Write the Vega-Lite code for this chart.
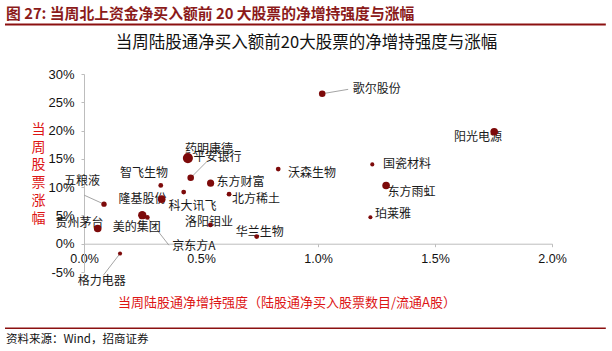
{
  "$schema": "https://vega.github.io/schema/vega-lite/v6.json",
  "width": 468,
  "height": 198,
  "autosize": {"type": "none"},
  "padding": {"left": 84, "top": 74, "right": 60, "bottom": 79},
  "background": "white",
  "config": {
    "view": {"stroke": null},
    "axis": {"grid": false, "labelOverlap": false, "labelBound": false, "labelFlush": false},
    "text": {"font": "Noto Sans CJK SC"}
  },
  "datasets": {
    "stocks": [
      {"name": "贵州茅台", "x": 0.000585, "y": 0.0269, "amt": 18.5, "lx": -0.000192, "ly": 0.0363, "ex": null, "ey": null},
      {"name": "五粮液", "x": 0.000855, "y": 0.0699, "amt": 9, "lx": -0.000085, "ly": 0.1106, "ex": 0.00001, "ey": 0.0858},
      {"name": "格力电器", "x": 0.00154, "y": -0.0173, "amt": 5.3, "lx": 0.000756, "ly": -0.0664, "ex": 0.000825, "ey": -0.0558},
      {"name": "美的集团", "x": 0.00249, "y": 0.0504, "amt": 22, "lx": 0.00225, "ly": 0.0292, "ex": null, "ey": null},
      {"name": "京东方A", "x": 0.002705, "y": 0.0464, "amt": 7.3, "lx": 0.0047, "ly": -0.0032, "ex": 0.00363, "ey": -0.0027},
      {"name": "隆基股份", "x": 0.00332, "y": 0.0788, "amt": 18.5, "lx": 0.0025, "ly": 0.0782, "ex": null, "ey": null},
      {"name": "智飞生物", "x": 0.00328, "y": 0.103, "amt": 7.3, "lx": 0.00256, "ly": 0.1253, "ex": null, "ey": null},
      {"name": "科大讯飞", "x": 0.00426, "y": 0.0912, "amt": 7.3, "lx": 0.004637, "ly": 0.0669, "ex": null, "ey": null},
      {"name": "药明康德", "x": 0.00444, "y": 0.1513, "amt": 32.5, "lx": 0.00534, "ly": 0.1667, "ex": null, "ey": null},
      {"name": "平安银行", "x": 0.00456, "y": 0.1165, "amt": 13.7, "lx": 0.005705, "ly": 0.1536, "ex": 0.00524, "ey": 0.1448},
      {"name": "东方财富", "x": 0.00541, "y": 0.1071, "amt": 16, "lx": 0.00669, "ly": 0.1094, "ex": null, "ey": null},
      {"name": "洛阳钼业", "x": 0.0054, "y": 0.0333, "amt": 7.3, "lx": 0.00534, "ly": 0.0386, "ex": null, "ey": null},
      {"name": "北方稀土", "x": 0.0062, "y": 0.0876, "amt": 7.3, "lx": 0.00735, "ly": 0.0793, "ex": null, "ey": null},
      {"name": "华兰生物", "x": 0.00738, "y": 0.0127, "amt": 7.3, "lx": 0.00751, "ly": 0.0209, "ex": null, "ey": null},
      {"name": "沃森生物", "x": 0.0083, "y": 0.1319, "amt": 7.3, "lx": 0.00974, "ly": 0.1242, "ex": null, "ey": null},
      {"name": "歌尔股份", "x": 0.01018, "y": 0.2651, "amt": 13.7, "lx": 0.01251, "ly": 0.2729, "ex": 0.01129, "ey": 0.2729},
      {"name": "阳光电源", "x": 0.01753, "y": 0.1979, "amt": 18.5, "lx": 0.01684, "ly": 0.188, "ex": null, "ey": null},
      {"name": "国瓷材料", "x": 0.01232, "y": 0.1402, "amt": 5.3, "lx": 0.0138, "ly": 0.1402, "ex": null, "ey": null},
      {"name": "东方雨虹", "x": 0.01291, "y": 0.103, "amt": 18.5, "lx": 0.014, "ly": 0.0917, "ex": null, "ey": null},
      {"name": "珀莱雅", "x": 0.01224, "y": 0.0469, "amt": 5.3, "lx": 0.01321, "ly": 0.0522, "ex": null, "ey": null}
    ]
  },
  "layer": [
    {
      "data": {"name": "stocks"},
      "transform": [{"filter": "datum.ex != null"}],
      "mark": {"type": "rule", "color": "#9a9a9a", "strokeWidth": 0.9},
      "encoding": {
        "x": {
          "field": "x", "type": "quantitative",
          "scale": {"domain": [0, 0.02], "nice": false, "zero": false},
          "axis": {
            "orient": "bottom",
            "offset": -28.3,
            "values": [0, 0.005, 0.01, 0.015, 0.02],
            "tickCount": 20,
            "format": ".1%",
            "labelOverlap": false,
            "domainColor": "#bdbdbd",
            "tickColor": "#bdbdbd",
            "tickSize": 3,
            "labelFont": "Liberation Sans",
            "labelFontSize": 12.5,
            "labelColor": "#111",
            "labelPadding": 6,
            "title": "当周陆股通净增持强度（陆股通净买入股票数目/流通A股）",
            "titleFont": "Noto Sans CJK SC",
            "titleFontSize": 13,
            "titleFontWeight": "normal",
            "titleColor": "#dd1515",
            "titleX": 202.5,
            "titleY": 58.3,
            "titleAlign": "center",
            "titleBaseline": "middle"
          }
        },
        "y": {
          "field": "y", "type": "quantitative",
          "scale": {"domain": [-0.05, 0.3], "nice": false, "zero": false},
          "axis": {
            "orient": "left",
            "values": [-0.05, 0, 0.05, 0.1, 0.15, 0.2, 0.25, 0.3],
            "tickCount": 20,
            "format": ".0%",
            "labelExpr": "replace(datum.label, '−', '-')",
            "labelOverlap": false,
            "domainColor": "#bdbdbd",
            "tickColor": "#bdbdbd",
            "tickSize": 3,
            "labelFont": "Liberation Sans",
            "labelFontSize": 13,
            "labelColor": "#111",
            "labelPadding": 7,
            "title": ["当", "周", "股", "票", "涨", "幅"],
            "titleAngle": 0,
            "titleFont": "Noto Sans CJK SC",
            "titleFontSize": 14,
            "titleFontWeight": "normal",
            "titleColor": "#dd1515",
            "titleLineHeight": 17.8,
            "titleX": -46,
            "titleY": 55.3,
            "titleAlign": "center",
            "titleBaseline": "middle"
          }
        },
        "x2": {"field": "ex"},
        "y2": {"field": "ey"}
      }
    },
    {
      "data": {"name": "stocks"},
      "mark": {"type": "text", "fontSize": 12, "color": "#1a1a1a", "align": "center", "baseline": "middle"},
      "encoding": {
        "x": {"field": "lx", "type": "quantitative"},
        "y": {"field": "ly", "type": "quantitative"},
        "text": {"field": "name"}
      }
    },
    {
      "data": {"name": "stocks"},
      "mark": {"type": "circle", "opacity": 1, "color": "#7d0a0a"},
      "encoding": {
        "x": {"field": "x", "type": "quantitative"},
        "y": {"field": "y", "type": "quantitative"},
        "size": {
          "field": "amt", "type": "quantitative",
          "scale": {"type": "linear", "domain": [0, 33], "range": [0, 104]},
          "legend": null
        }
      }
    },
    {
      "data": {"values": [{"t": "当周陆股通净买入额前20大股票的净增持强度与涨幅"}]},
      "mark": {"type": "text", "fontSize": 16.5, "color": "#111", "align": "center", "baseline": "middle"},
      "encoding": {
        "x": {"datum": 0.009509, "type": "quantitative"},
        "y": {"datum": 0.3548, "type": "quantitative"},
        "text": {"field": "t"}
      }
    },
    {
      "data": {"values": [{"t": "图 27: 当周北上资金净买入额前 20 大股票的净增持强度与涨幅"}]},
      "mark": {"type": "text", "fontSize": 14.8, "fontWeight": "bold", "color": "#8b1a1a", "align": "left", "baseline": "middle"},
      "encoding": {
        "x": {"datum": -0.003333, "type": "quantitative"},
        "y": {"datum": 0.4043, "type": "quantitative"},
        "text": {"field": "t"}
      }
    },
    {
      "data": {"values": [{"t": "资料来源：Wind，招商证券"}]},
      "mark": {"type": "text", "fontSize": 11.5, "color": "#111", "align": "left", "baseline": "middle"},
      "encoding": {
        "x": {"datum": -0.003333, "type": "quantitative"},
        "y": {"datum": -0.1702, "type": "quantitative"},
        "text": {"field": "t"}
      }
    },
    {
      "data": {"values": [{"k": "header"}]},
      "mark": {"type": "rule", "color": "#8b1010", "strokeWidth": 2},
      "encoding": {
        "x": {"datum": -0.003376, "type": "quantitative"},
        "x2": {"datum": 0.0223},
        "y": {"datum": 0.3875, "type": "quantitative"}
      }
    },
    {
      "data": {"values": [{"k": "footer"}]},
      "mark": {"type": "rule", "color": "#8b1010", "strokeWidth": 1.5},
      "encoding": {
        "x": {"datum": -0.003376, "type": "quantitative"},
        "x2": {"datum": 0.0223},
        "y": {"datum": -0.1496, "type": "quantitative"}
      }
    }
  ]
}
